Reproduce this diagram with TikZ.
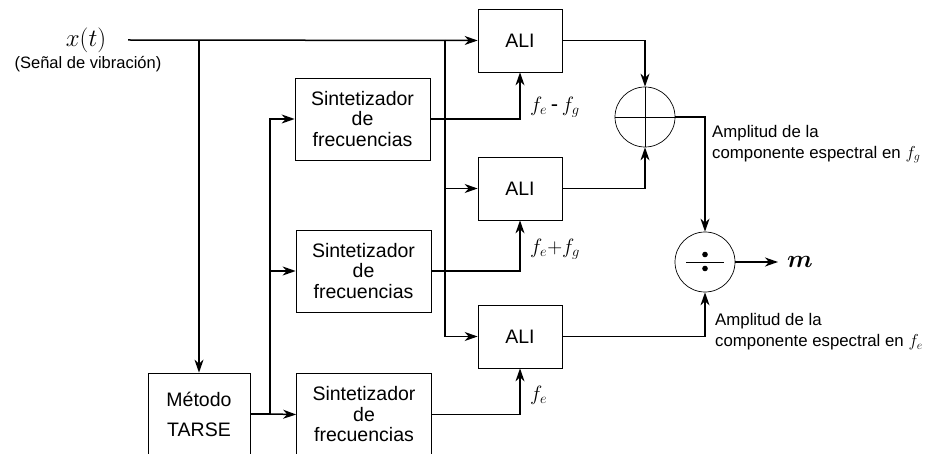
\documentclass[tikz,border=0pt]{standalone}
\usepackage{amsmath,amssymb}
\usepackage{fontspec}
\setmainfont{Liberation Sans}
\usepackage{tikz}
\usetikzlibrary{calc,positioning,arrows.meta}

\begin{document}
\begin{tikzpicture}[x=1pt,y=-1pt,
  blk/.style={draw, line width=0.7pt, inner sep=0pt, align=center, font=\fontsize{19.5}{20.5}\selectfont},
  synth/.style={blk, minimum width=135pt, minimum height=82pt},
  alibox/.style={blk, minimum width=84pt, minimum height=63pt},
  opnode/.style={draw, circle, line width=0.7pt, minimum size=60pt, inner sep=0pt},
  sig/.style={line width=1.5pt},
  arr/.style={sig, -{Stealth[length=13pt,width=9pt,inset=4pt]}},
  lbl/.style={font=\fontsize{16.8}{21}\selectfont, align=left, anchor=west, inner sep=0pt}]
  \useasboundingbox (0,0) rectangle (928,454);
  \clip (0,0) rectangle (928,454);

  % entrada
  \node (xt) at (86,40) {\fontsize{25}{25}\selectfont$x(t)$};
  \node[font=\fontsize{16.5}{18}\selectfont] (sv) at (88,64) {(Señal de vibración)};
  \coordinate (xs) at (128,40);

  % bloques
  \node[blk, font=\fontsize{19.5}{30}\selectfont, minimum width=102pt, minimum height=82pt] (tarse) at (199,414) {Método\\TARSE};
  \node[synth] (sint1) at (362.5,119) {Sintetizador\\de\\frecuencias};
  \node[synth] (sint2) at (363.5,271) {Sintetizador\\de\\frecuencias};
  \node[synth] (sint3) at (364,414.5) {Sintetizador\\de\\frecuencias};
  \node[alibox] (ali1) at (520,40.5) {ALI};
  \node[alibox] (ali2) at (520,188.5) {ALI};
  \node[alibox] (ali3) at (520,336.5) {ALI};

  % sumador y divisor
  \node[opnode] (sum) at (645,117) {};
  \draw[line width=0.7pt] (sum.north) -- (sum.south) (sum.west) -- (sum.east);
  \node[opnode] (div) at (705,262) {};
  \draw[line width=0.8pt] ([xshift=-19pt]div.center) -- ([xshift=19pt]div.center);
  \fill ([yshift=-6.5pt]div.center) circle (2.8pt) ([yshift=7.5pt]div.center) circle (2.8pt);

  % senal de vibracion
  \coordinate (bus) at (445,40);
  \draw[arr] (xs) -- (ali1.west);
  \draw[arr] (tarse.north |- xs) -- (tarse.north);
  \draw[arr] (bus) |- (ali3.west);
  \draw[arr] (bus |- ali2.west) -- (ali2.west);

  % TARSE a sintetizadores
  \coordinate (ts) at (270,414);
  \draw[sig] (tarse.east) -- (ts);
  \draw[arr] (ts) -- (sint3.west);
  \draw[arr] (ts) |- (sint1.west);
  \draw[arr] (ts |- sint2.west) -- (sint2.west);

  % sintetizadores a ALI
  \draw[arr] (sint1.east) -| (ali1.south);
  \draw[arr] (sint2.east) -| (ali2.south);
  \draw[arr] (sint3.east) -| (ali3.south);
  \node[anchor=west, inner sep=0pt, font=\fontsize{22}{22}\selectfont] (fd) at (530,107) {$f_e$\,-\,$f_g$};
  \node[anchor=west, inner sep=0pt, font=\fontsize{22}{22}\selectfont] (fs) at (530,249) {$f_e{+}f_g$};
  \node[anchor=west, inner sep=0pt, font=\fontsize{22}{22}\selectfont] (fe) at (530,395) {$f_e$};

  % salidas
  \draw[arr] (ali1.east) -| (sum.north);
  \draw[arr] (ali2.east) -| (sum.south);
  \draw[arr] (sum.east) -| (div.north);
  \draw[arr] (ali3.east) -| (div.south);
  \node[anchor=west, inner xsep=9pt, inner ysep=0pt] (m) at (778,262) {\fontsize{28}{28}\selectfont$\boldsymbol{m}$};
  \draw[arr] (div.east) -- (m.west);
  \node[lbl] (ag) at (712,144) {Amplitud de la\\componente espectral en $f_g$};
  \node[lbl] (ae) at (715,332) {Amplitud de la\\componente espectral en $f_e$};
\end{tikzpicture}
\end{document}
